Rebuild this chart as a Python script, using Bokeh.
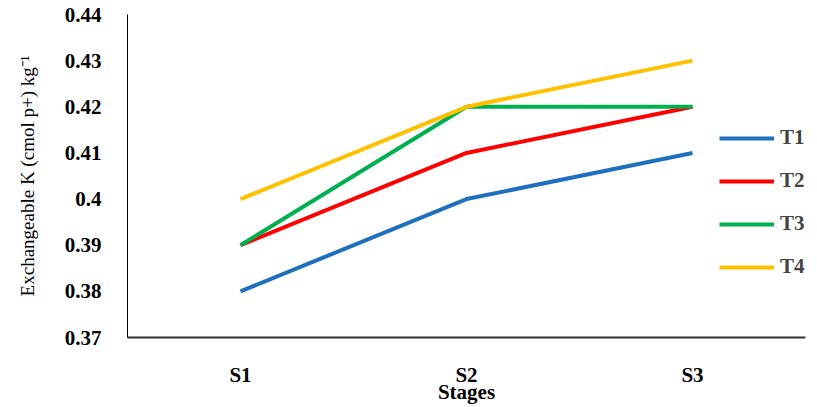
from bokeh.plotting import figure
from bokeh.models import Legend, LegendItem, FixedTicker
from bokeh.embed import file_html
from bokeh.resources import INLINE

stages = ["S1", "S2", "S3"]
t1 = [0.38, 0.40, 0.41]
t2 = [0.39, 0.41, 0.42]
t3 = [0.39, 0.42, 0.42]
t4 = [0.40, 0.42, 0.43]
series_names = ["T1", "T2", "T3", "T4"]
colors = ["#1f6fbf", "#ff0000", "#00b050", "#ffc000"]
y_ticks = [0.37, 0.38, 0.39, 0.40, 0.41, 0.42, 0.43, 0.44]
y_tick_labels = ["0.37", "0.38", "0.39", "0.4", "0.41", "0.42", "0.43", "0.44"]

p = figure(width=812, height=407, x_range=stages, y_range=(0.37, 0.44),
           output_backend="svg", toolbar_location=None,
           min_border_left=127, min_border_right=7, min_border_top=14, min_border_bottom=70)
p.outline_line_color = None
p.xgrid.grid_line_color = None
p.ygrid.grid_line_color = None
p.x_range.range_padding = 0

renderers = []
for name, vals, c in zip(series_names, [t1, t2, t3, t4], colors):
    r = p.line(stages, vals, line_color=c, line_width=4)
    renderers.append((name, r))

font = "Liberation Serif"
p.yaxis.ticker = FixedTicker(ticks=y_ticks)
p.yaxis.major_label_overrides = {t: s for t, s in zip(y_ticks, y_tick_labels)}
for ax in (p.xaxis, p.yaxis):
    ax.major_tick_line_color = None
    ax.minor_tick_line_color = None
    ax.major_label_text_font = font
    ax.major_label_text_font_style = "bold"
    ax.major_label_text_font_size = "21px"
    ax.major_label_text_color = "black"
    ax.axis_label_text_font = font
    ax.axis_label_text_color = "black"
p.yaxis.axis_line_color = "black"
p.yaxis.axis_line_width = 1
p.xaxis.axis_line_color = "#333333"
p.xaxis.axis_line_width = 2
p.yaxis.major_label_standoff = 20
p.xaxis.major_label_standoff = 19
p.yaxis.axis_label = "Exchangeable K (cmol p+) kg\u207b\u00b9"
p.yaxis.axis_label_text_font_style = "normal"
p.yaxis.axis_label_text_font_size = "19px"
p.yaxis.axis_label_standoff = 24
p.xaxis.axis_label = "Stages"
p.xaxis.axis_label_text_font_style = "bold"
p.xaxis.axis_label_text_font_size = "21px"
p.xaxis.axis_label_standoff = -10

legend = Legend(items=[LegendItem(label=n, renderers=[r]) for n, r in renderers],
                location=(592, 58), orientation="vertical",
                label_text_font=font, label_text_font_style="bold", label_text_font_size="21px",
                glyph_width=55, glyph_height=20, label_height=20, label_standoff=6,
                spacing=18, padding=0, margin=0,
                border_line_color=None, background_fill_alpha=0)
p.add_layout(legend)

open("out.html", "w").write(file_html(p, INLINE))
